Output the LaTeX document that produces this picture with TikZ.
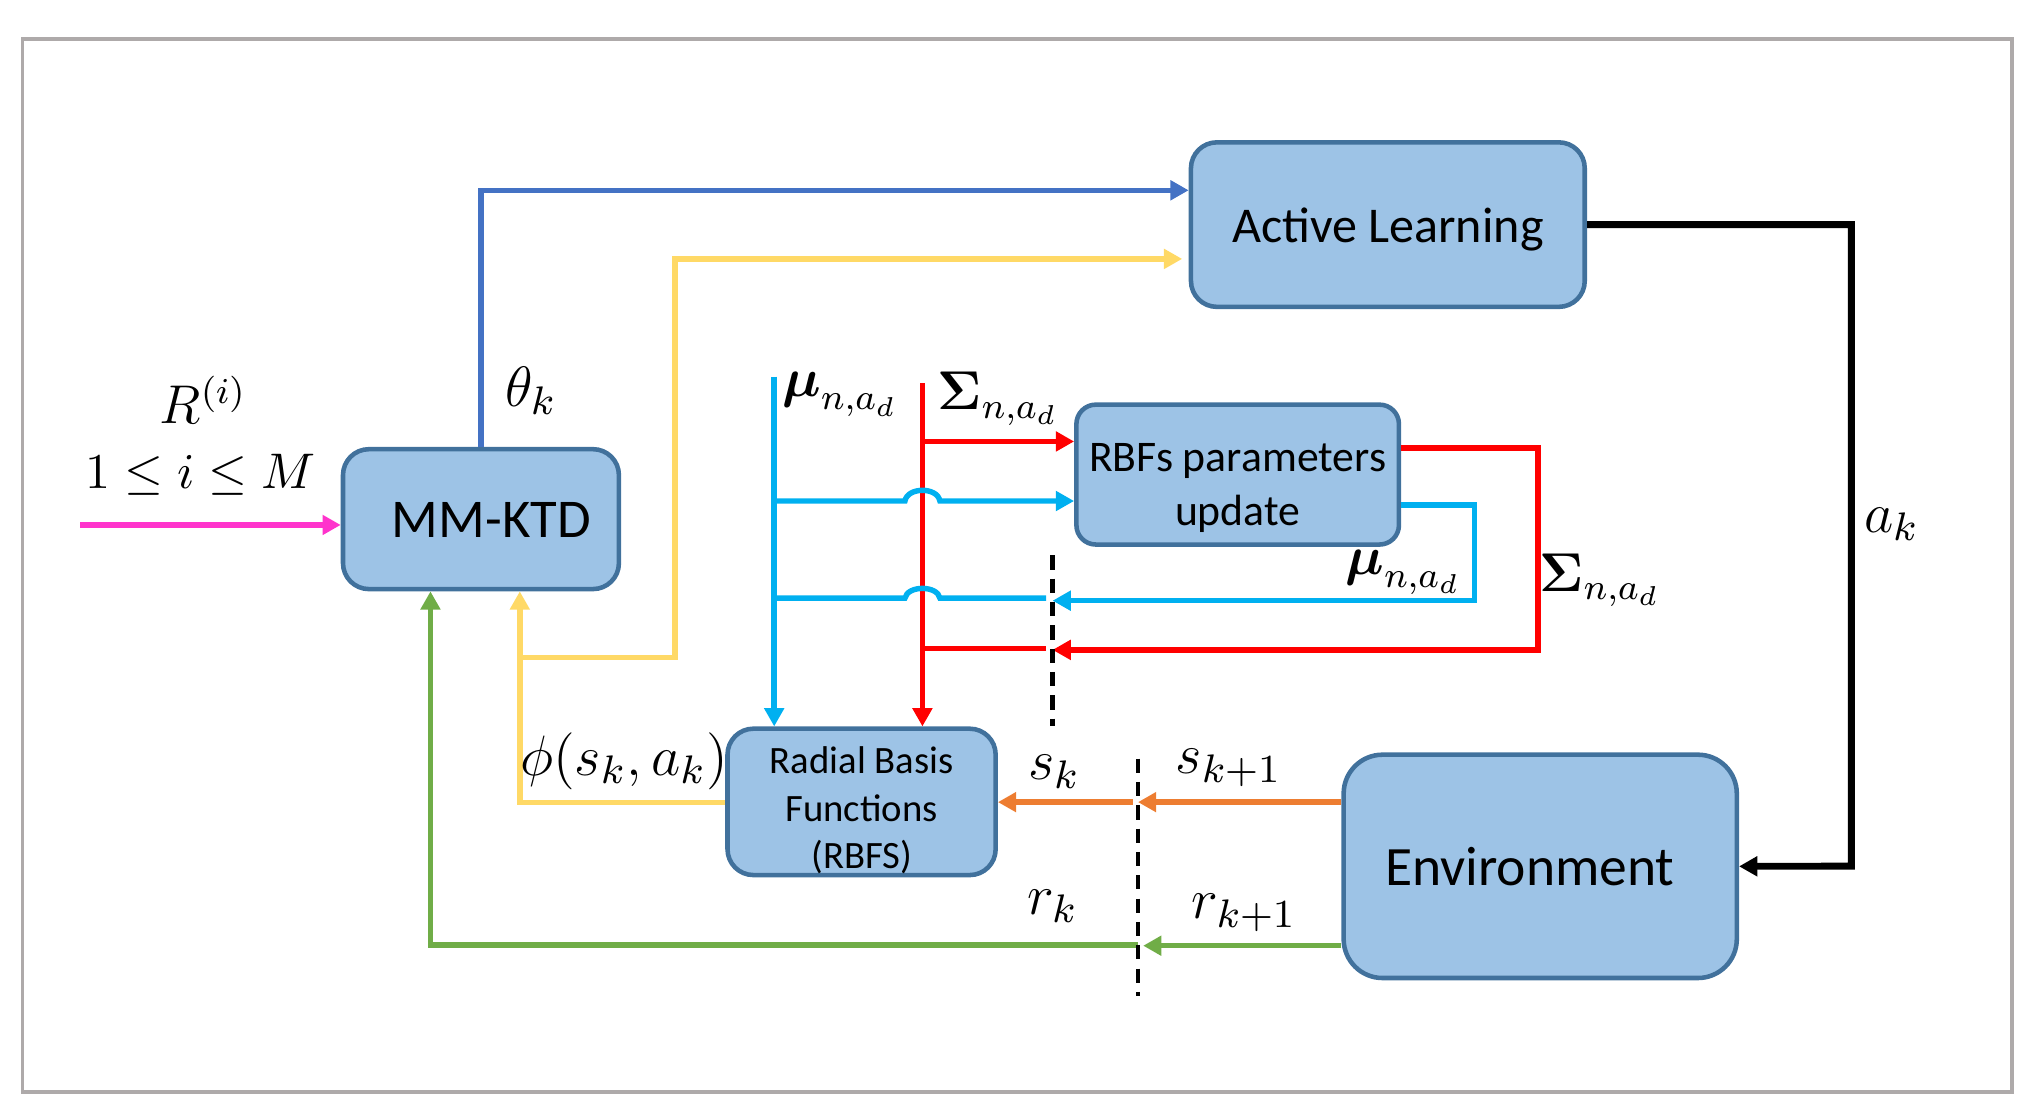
\RequirePackage{fix-cm}
\documentclass[tikz,border=0pt]{standalone}
\usepackage{amsmath, amssymb}
\usepackage[no-math]{fontspec}
\newfontfamily\boxfont{Carlito}
\usetikzlibrary{arrows.meta}

\definecolor{boxfill}{HTML}{9DC3E6}
\definecolor{boxline}{HTML}{41719C}
\definecolor{thetablue}{HTML}{4472C4}
\definecolor{phiyellow}{HTML}{FFD966}
\definecolor{mucyan}{HTML}{00B0F0}
\definecolor{sigred}{HTML}{FF0000}
\definecolor{sorange}{HTML}{ED7D31}
\definecolor{rgreen}{HTML}{70AD47}
\definecolor{rpink}{HTML}{FF33CC}
\definecolor{framegray}{HTML}{AEAAAA}

% box text, lowered without changing the box
\newcommand{\boxtext}[2]{\raisebox{#1}[\height][\depth]{\begin{tabular}{@{}c@{}}#2\end{tabular}}}

\begin{document}
\begin{tikzpicture}[
            x=0.01cm, y=-0.01cm,
            block/.style={rectangle, draw=boxline, fill=boxfill, line width=1pt, rounded corners=0.2cm, inner sep=0pt, align=center},
            flow/.style={line width=1.2pt, -{Triangle[length=4pt, width=4.2pt]}},
            wire/.style={line width=1.2pt},
            cut/.style={line width=0.9pt, dash pattern=on 0.11cm off 0.07cm},
            lab/.style={font=\fontsize{12.5}{14}\selectfont, inner sep=0pt},
            par/.style={font=\fontsize{12}{14}\selectfont, inner sep=0pt}
        ]
        \useasboundingbox (0,0) rectangle (1568,865);
        \draw[framegray, line width=0.8pt] (17.5,30.3) rectangle (1554,843.6);

        %blocks
        \node[block, minimum width=2.13cm, minimum height=1.08cm, font=\boxfont\fontsize{12}{14}\selectfont]
            (mm)     at (371.5,401)    {\boxtext{-0.04cm}{\hspace*{0.16cm}MM-KTD}};
        \node[block, minimum width=3.04cm, minimum height=1.27cm, font=\boxfont\fontsize{11}{13}\selectfont]
            (al)     at (1072,173.5)   {\boxtext{-0.05cm}{Active Learning}};
        \node[block, minimum width=2.49cm, minimum height=1.08cm, rounded corners=0.15cm, font=\boxfont\fontsize{9.6}{12}\selectfont]
            (rbfupd) at (956,366.6)    {\boxtext{-0.1cm}{RBFs parameters\\update}};
        \node[block, minimum width=2.07cm, minimum height=1.13cm, font=\boxfont\fontsize{8.5}{10.5}\selectfont]
            (rbf)    at (665.5,619.4)  {\boxtext{-0.075cm}{Radial Basis\\Functions\\(RBFS)}};
        \node[block, minimum width=3.035cm, minimum height=1.724cm, rounded corners=0.3cm, font=\boxfont\fontsize{12.2}{14}\selectfont]
            (env)    at (1189.7,669.2) {\boxtext{-0.05cm}{Environment\hspace*{0.16cm}}};

        %free ends
        \coordinate (in)      at (62,405.5);
        \coordinate (mutop)   at (598,291);
        \coordinate (sigtop)  at (712.5,296);
        \coordinate (ybranch) at (401.5,508);
        \coordinate (cutA)    at (813,429);
        \coordinate (cutAend) at (813,561);
        \coordinate (cutB)    at (879,586);
        \coordinate (cutBend) at (879,769);

        %arrows
        \draw[flow, rpink]     (in) -- (in -| mm.west);
        \draw[flow, thetablue] (mm.north) |- (al.west |- 0,147);
        \draw[flow, phiyellow] (rbf.west |- 0,620) -| (mm.south -| ybranch);
        \draw[flow, phiyellow, shorten >=0.05cm] (ybranch) -| (521.5,200) -- (al.west |- 0,200);
        \draw[flow, black, line width=1.5pt] (al.east) -| (1430,669) -- (env.east);

        %rbf parameters
        \draw[flow, sigred]  (sigtop) -- (sigtop |- rbf.north);
        \draw[flow, mucyan]  (mutop) -- (mutop |- rbf.north);
        \draw[flow, sigred]  (sigtop |- 0,341) -- (rbfupd.west |- 0,341);
        \draw[flow, mucyan]  (mutop |- 0,387) -- (699,387) .. controls (701,376) and (724,376) .. (726,387) -- (rbfupd.west |- 0,387);
        \draw[flow, mucyan]  (rbfupd.east |- 0,390) -| (1139,464) -- (cutA |- 0,464);
        \draw[wire, mucyan]  (808,462) -- (726,462) .. controls (724,452) and (701,452) .. (699,462) -- (mutop |- 0,462);
        \draw[flow, sigred]  (rbfupd.east |- 0,346) -| (1188,502) -- (cutA |- 0,502);
        \draw[wire, sigred]  (808,501) -- (sigtop |- 0,501);

        %state and reward
        \draw[flow, sorange] (env.west |- 0,619.6) -- (cutB |- 0,619.6);
        \draw[flow, sorange] (875,619.6) -- (rbf.east |- 0,619.6);
        \draw[flow, rgreen, shorten >=0.04cm] (env.west |- 0,730.5) -- (cutB |- 0,730.5);
        \draw[flow, rgreen]  (cutB |- 0,730) -| (mm.south -| 332.5,0);

        %time cuts
        \draw[cut] (cutA) -- (cutAend);
        \draw[cut] (cutB) -- (cutBend);

        %labels
        \node[par, font=\fontsize{12}{14}\selectfont] (ri)    at (157,309)  {$R^{(i)}$};
        \node[par, font=\fontsize{11}{13}\selectfont] (range) at (155,367)  {$1 \leq i \leq M$};
        \node[lab] (thetak) at (410,302)  {$\theta_k$};
        \node[par] (mua)    at (649,305)  {$\boldsymbol{\mu}_{n,a_d}$};
        \node[par] (siga)   at (771,308)  {$\boldsymbol{\Sigma}_{n,a_d}$};
        \node[par] (mub)    at (1084,442) {$\boldsymbol{\mu}_{n,a_d}$};
        \node[par] (sigb)   at (1236,448) {$\boldsymbol{\Sigma}_{n,a_d}$};
        \node[lab] (ak)     at (1461,405) {$a_k$};
        \node[lab] (phik)   at (482,588)  {$\phi(s_k, a_k)$};
        \node[lab] (sk)     at (814,596)  {$s_k$};
        \node[lab] (skn)    at (949,593)  {$s_{k+1}$};
        \node[lab] (rk)     at (813,700)  {$r_k$};
        \node[lab] (rkn)    at (961,705)  {$r_{k+1}$};

        \end{tikzpicture}
\end{document}
